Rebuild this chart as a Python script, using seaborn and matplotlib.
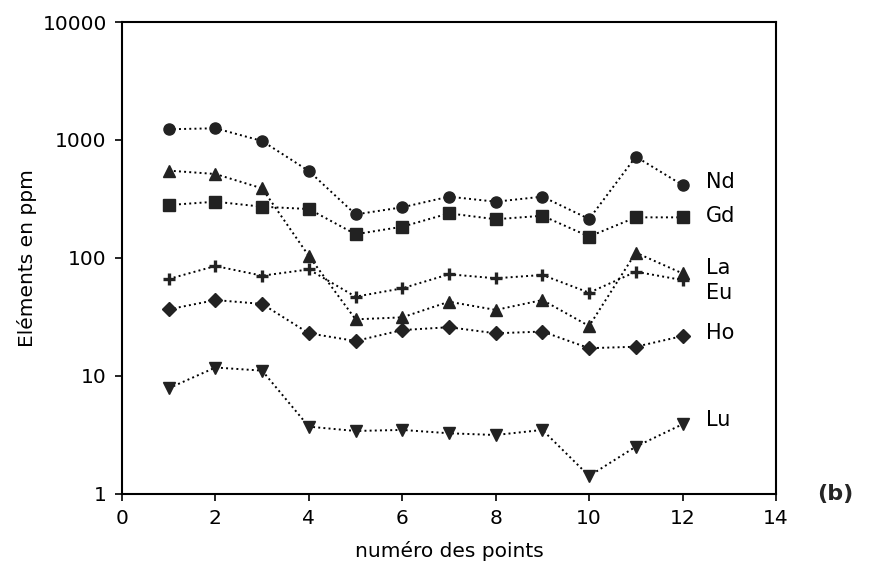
import numpy as np
import pandas as pd
import seaborn as sns
import matplotlib
matplotlib.use('Agg')
import matplotlib.pyplot as plt
from matplotlib.ticker import FixedLocator, FixedFormatter, NullLocator

points = [1, 2, 3, 4, 5, 6, 7, 8, 9, 10, 11, 12]
nd = [1233, 1257, 981, 546, 234, 269, 331, 300, 331, 214, 722, 415]
gd = [281, 300, 272, 260, 159, 184, 239, 213, 228, 152, 221, 221]
la = [550, 515, 389, 104, 30.2, 31.4, 42.6, 36.3, 44, 26.5, 111, 74]
eu = [66.4, 85.5, 70.8, 80, 47, 55.3, 72.8, 67.3, 71.8, 50.8, 76.5, 65]
ho = [36.7, 44, 40.8, 23.0, 19.8, 24.5, 25.9, 23.0, 23.8, 17.2, 17.7, 21.8]
lu = [7.87, 11.8, 11.1, 3.72, 3.42, 3.49, 3.27, 3.16, 3.49, 1.42, 2.52, 3.9]

elements = ['Nd', 'Gd', 'La', 'Eu', 'Ho', 'Lu']
markers = ['o', 's', '^', '+', 'D', 'v']
msizes = [8, 8, 9, 9, 7, 8]
label_y = [440, 227, 82, 50.5, 23.1, 4.24]

def main():
    sns.set_style('ticks')
    plt.rcParams['font.family'] = ['DejaVu Sans']

    df = pd.DataFrame({'point': points * 6,
                       'ppm': nd + gd + la + eu + ho + lu,
                       'el': np.repeat(elements, len(points))})

    fig = plt.figure(figsize=(8.91, 5.76), dpi=100)
    ax = fig.add_axes([0.1369, 0.1424, 0.734, 0.8194])

    for el, m, ms in zip(elements, markers, msizes):
        sub = df[df.el == el]
        mew = 2.4 if m == '+' else 1.0
        sns.lineplot(data=sub, x='point', y='ppm', ax=ax, color='black',
                     linestyle=':', linewidth=1.4, marker=m, markersize=ms,
                     markeredgewidth=mew,
                     markeredgecolor='#222222', markerfacecolor='#222222')

    for el, y in zip(elements, label_y):
        ax.text(12.5, y, el, fontsize=15, va='center', ha='left', color='black')

    ax.set_yscale('log')
    ax.set_ylim(1, 10000)
    ax.set_xlim(0, 14)
    ax.xaxis.set_major_locator(FixedLocator([0, 2, 4, 6, 8, 10, 12, 14]))
    ax.yaxis.set_major_locator(FixedLocator([1, 10, 100, 1000, 10000]))
    ax.yaxis.set_major_formatter(FixedFormatter(['1', '10', '100', '1000', '10000']))
    ax.yaxis.set_minor_locator(NullLocator())
    ax.tick_params(labelsize=14.5, length=5, width=1.2, direction='out',
                   colors='black', pad=6)
    for s in ax.spines.values():
        s.set_linewidth(1.5)
        s.set_color('black')
    ax.set_xlabel('numéro des points', fontsize=14.5, labelpad=9, color='black')
    ax.set_ylabel('Eléments en ppm', fontsize=14.5, labelpad=4, color='black')
    fig.text(0.937, 0.143, '(b)', fontsize=16, fontweight='bold', ha='center', va='center')

    plt.savefig('out.png', dpi=100)

if __name__ == '__main__':
    main()
